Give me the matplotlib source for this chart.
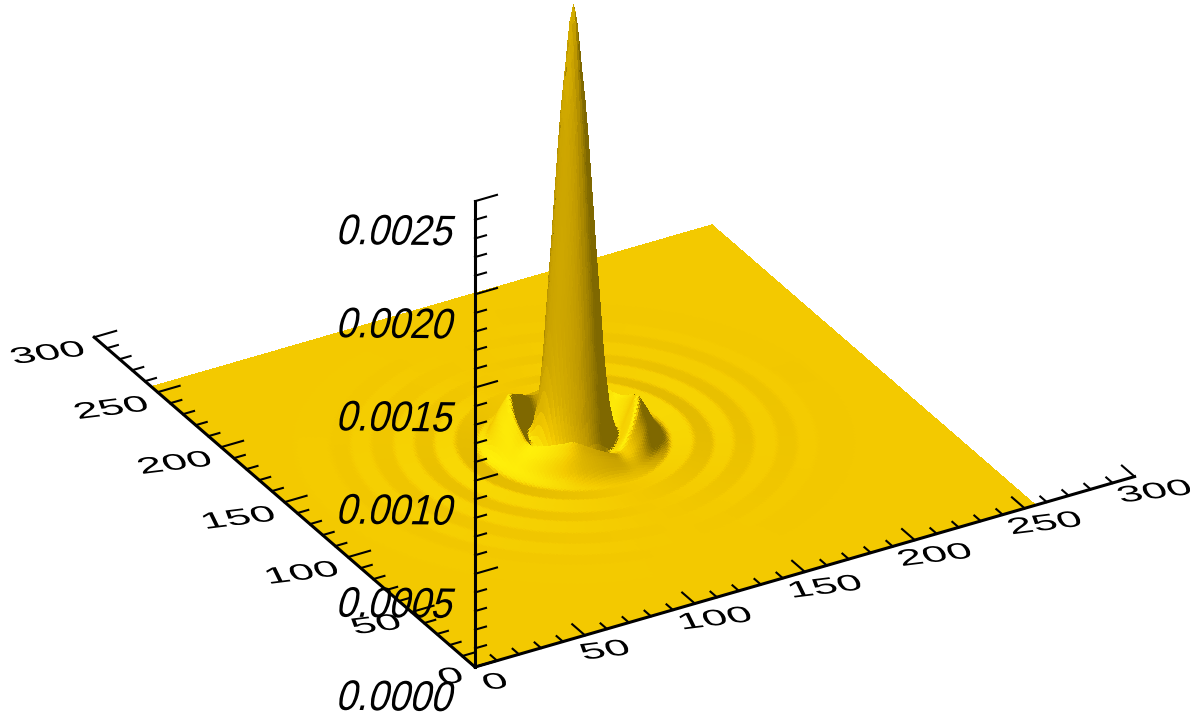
import numpy as np
import matplotlib
matplotlib.use("Agg")
import matplotlib.pyplot as plt
from matplotlib.colors import LinearSegmentedColormap
from matplotlib.patheffects import AbstractPathEffect
from matplotlib.transforms import Affine2D
from mpl_toolkits.mplot3d import proj3d

# ---- values ----
x_ticks = [0, 50, 100, 150, 200, 250, 300]
y_ticks = [0, 50, 100, 150, 200, 250, 300]
z_ticks = [0.0, 0.0005, 0.0010, 0.0015, 0.0020, 0.0025]
z_labels = ["0.0000", "0.0005", "0.0010", "0.0015", "0.0020", "0.0025"]

# radial height profile of the central spire and the ripples around it
radius = [0, 1.4, 2.8, 5.2, 6.8, 8.8, 10.8, 12, 14, 16, 18, 22, 26, 30, 34, 38,
          47, 55, 63, 71, 80, 88, 96, 110, 130, 400]
height = [2.37e-3, 2.28e-3, 2.08e-3, 1.76e-3, 1.46e-3, 1.06e-3, 7.0e-4, 4.6e-4, 2.2e-4,
          1.0e-4, 2.0e-5, 2.0e-5, 2.0e-5, 2.0e-5, 1.5e-5, 3e-6,
          2.0e-5, 4e-6, 1.3e-5, 3e-6, 8e-6, 2e-6, 4e-6, 1e-6, 0.0, 0.0]

# first ring: shape across the radius and crest height around the viewing angle
ring_radius = [0, 17, 20, 25, 30, 34, 37, 400]
ring_shape = [0.0, 0.0, 0.35, 1.0, 0.55, 0.1, 0.0, 0.0]
ring_angle = [0, 45, 90, 135, 180, 225, 270, 315, 360]
ring_crest = [2.6e-4, 1.3e-4, 1.6e-4, 1.3e-4, 2.7e-4, 1.0e-4, 1.8e-4, 5e-5, 2.6e-4]

center_x, center_y = 121.0, 132.0
grid_size = 256

# ---- surface ----
def smooth(values, width):
    kernel = np.hanning(width + 2)[1:-1]
    kernel /= kernel.sum()
    pad = width
    padded = np.pad(values, pad, mode="edge")
    return np.convolve(padded, kernel, mode="same")[pad:-pad]

fine_r = np.arange(0, 400, 0.25)
fine_h = smooth(np.interp(fine_r, radius, height), 5)
fine_s = smooth(np.interp(fine_r, ring_radius, ring_shape), 13)
fine_a = np.arange(0, 360, 1.0)
raw_c = np.interp(fine_a, ring_angle, ring_crest)
kern = np.hanning(21)[1:-1]
kern /= kern.sum()
fine_c = np.convolve(np.r_[raw_c, raw_c, raw_c], kern, mode="same")[360:720]

gx = np.arange(grid_size, dtype=float)
X, Y = np.meshgrid(gx, gx)
dx, dy = X - center_x, Y - center_y
r = np.hypot(dx, dy)
th = np.radians(60.0)
scr_a = dx * np.sin(th) - dy * np.cos(th)
scr_b = dx * np.cos(th) + dy * np.sin(th)
phi = np.degrees(np.arctan2(scr_b, scr_a)) % 360
Z = np.interp(r, fine_r, fine_h) + np.interp(phi, fine_a, fine_c) * np.interp(r, fine_r, fine_s)

# shading
k = 84700.0
dZy, dZx = np.gradient(Z)
nx, ny, nz = -dZx * k, -dZy * k, np.ones_like(Z)
nn = np.sqrt(nx**2 + ny**2 + nz**2)
nx, ny, nz = nx / nn, ny / nn, nz / nn
lateral = -(nx * np.sin(th) - ny * np.cos(th))
toward = -(nx * np.cos(th) + ny * np.sin(th))
intensity = 0.75 * nz + 0.55 * lateral * np.clip(nz * 3 + 0.25, 0, 1) + 0.35 * toward
imin, imax = 0.1, 1.2
stops = [(0.1, "#7f6800"), (0.35, "#be9800"), (0.75, "#f3c900"), (1.0, "#fff00a"), (1.2, "#ffff50")]
cmap = LinearSegmentedColormap.from_list(
    "gold", [((v - imin) / (imax - imin), c) for v, c in stops], N=512)
colors = cmap(np.clip((intensity - imin) / (imax - imin), 0, 1))

# ---- figure ----
W, H = 1200, 727
fig = plt.figure(figsize=(W / 100, H / 100), dpi=100)
plt.rcParams["font.family"] = ["Liberation Sans", "DejaVu Sans"]
size = 1500.0
ax = fig.add_axes([0, 0, size / W, size / H], projection="3d", proj_type="ortho")
ax.view_init(elev=30, azim=240)
ax.set_box_aspect((759, 759, 536))
ax.set_xlim(0, 300)
ax.set_ylim(0, 300)
ax.set_zlim(0, 0.0025)
ax.set_axis_off()
ax.patch.set_alpha(0)
ax.computed_zorder = False

def to_px(p):
    xs, ys, _ = proj3d.proj_transform(p[0], p[1], p[2], ax.get_proj())
    return ax.transData.transform((xs, ys))

target_origin = np.array([475.0, H - 667.0])
target_len = np.hypot(660.0, 189.0)
left, bottom = 0.0, 0.0
for _ in range(4):
    ax.set_position([left / W, bottom / H, size / W, size / H])
    ax.apply_aspect()
    o = to_px((0, 0, 0))
    e = to_px((300, 0, 0))
    ratio = target_len / np.hypot(*(e - o))
    size *= ratio
    ax.set_position([left / W, bottom / H, size / W, size / H])
    ax.apply_aspect()
    o = to_px((0, 0, 0))
    left += target_origin[0] - o[0]
    bottom += target_origin[1] - o[1]
ax.set_position([left / W, bottom / H, size / W, size / H])

ax.plot_surface(X, Y, Z, facecolors=colors, rstride=1, cstride=1, linewidth=0,
                antialiased=False, shade=False, zorder=1)

# ---- axes ----
axis_lw, tick_lw = 2.2, 1.5
ax.plot([0, 300], [0, 0], [0, 0], color="k", lw=axis_lw, zorder=3)
ax.plot([0, 0], [0, 300], [0, 0], color="k", lw=axis_lw, zorder=3)
ax.plot([0, 0], [0, 0], [0, 0.0025], color="k", lw=axis_lw, zorder=3)

major_len, minor_len = 10.0, 5.0
for v in np.arange(0, 301, 10):
    n = major_len if v % 50 == 0 else minor_len
    ax.plot([v, v], [0, n], [0, 0], color="k", lw=tick_lw, zorder=3)
    ax.plot([0, n], [v, v], [0, 0], color="k", lw=tick_lw, zorder=3)
for i in range(26):
    n = major_len if i % 5 == 0 else minor_len
    ax.plot([0, n], [0, 0], [i * 1e-4, i * 1e-4], color="k", lw=tick_lw, zorder=3)

# ---- labels lying in the 3-D planes ----
base_angle = np.degrees(np.arctan2(189.0, 660.0))
ex = np.array([660.0, 189.0]) / np.hypot(660.0, 189.0)

class PlaneText(AbstractPathEffect):
    def __init__(self, up):
        super().__init__()
        self.up = up

    def draw_path(self, renderer, gc, tpath, affine, rgbFace=None):
        box = tpath.transformed(affine).get_extents()
        cx, cy = (box.x0 + box.x1) / 2, (box.y0 + box.y1) / 2
        m = np.array([[ex[0], self.up[0], 0], [ex[1], self.up[1], 0], [0, 0, 1.0]])
        warp = (Affine2D().translate(-cx, -cy).rotate_deg(-base_angle)
                + Affine2D(m) + Affine2D().translate(cx, cy))
        renderer.draw_path(gc, tpath, affine + warp, rgbFace)

font_pt = 29.5
up_flat = PlaneText(np.array([-0.549, 0.48]))
up_wall = PlaneText(np.array([0.0, 1.0]))

for v in x_ticks:
    ax.text(v, -15.5, 0, str(v), fontsize=font_pt, ha="center", va="center",
            rotation=base_angle, rotation_mode="anchor", color="k", zorder=4,
            path_effects=[up_flat])
for v in y_ticks:
    s = str(v)
    ax.text(-8 - 5 * len(s), v - 3, 0, s, fontsize=font_pt, ha="center", va="center",
            rotation=base_angle, rotation_mode="anchor", color="k", zorder=4,
            path_effects=[up_flat])
for v, s in zip(z_ticks, z_labels):
    ax.text(-35.5, 0, v - 5e-5, s, fontsize=font_pt, ha="center", va="center",
            rotation=base_angle, rotation_mode="anchor", color="k", zorder=4,
            path_effects=[up_wall])

fig.savefig("out.png", dpi=100, facecolor="white")
